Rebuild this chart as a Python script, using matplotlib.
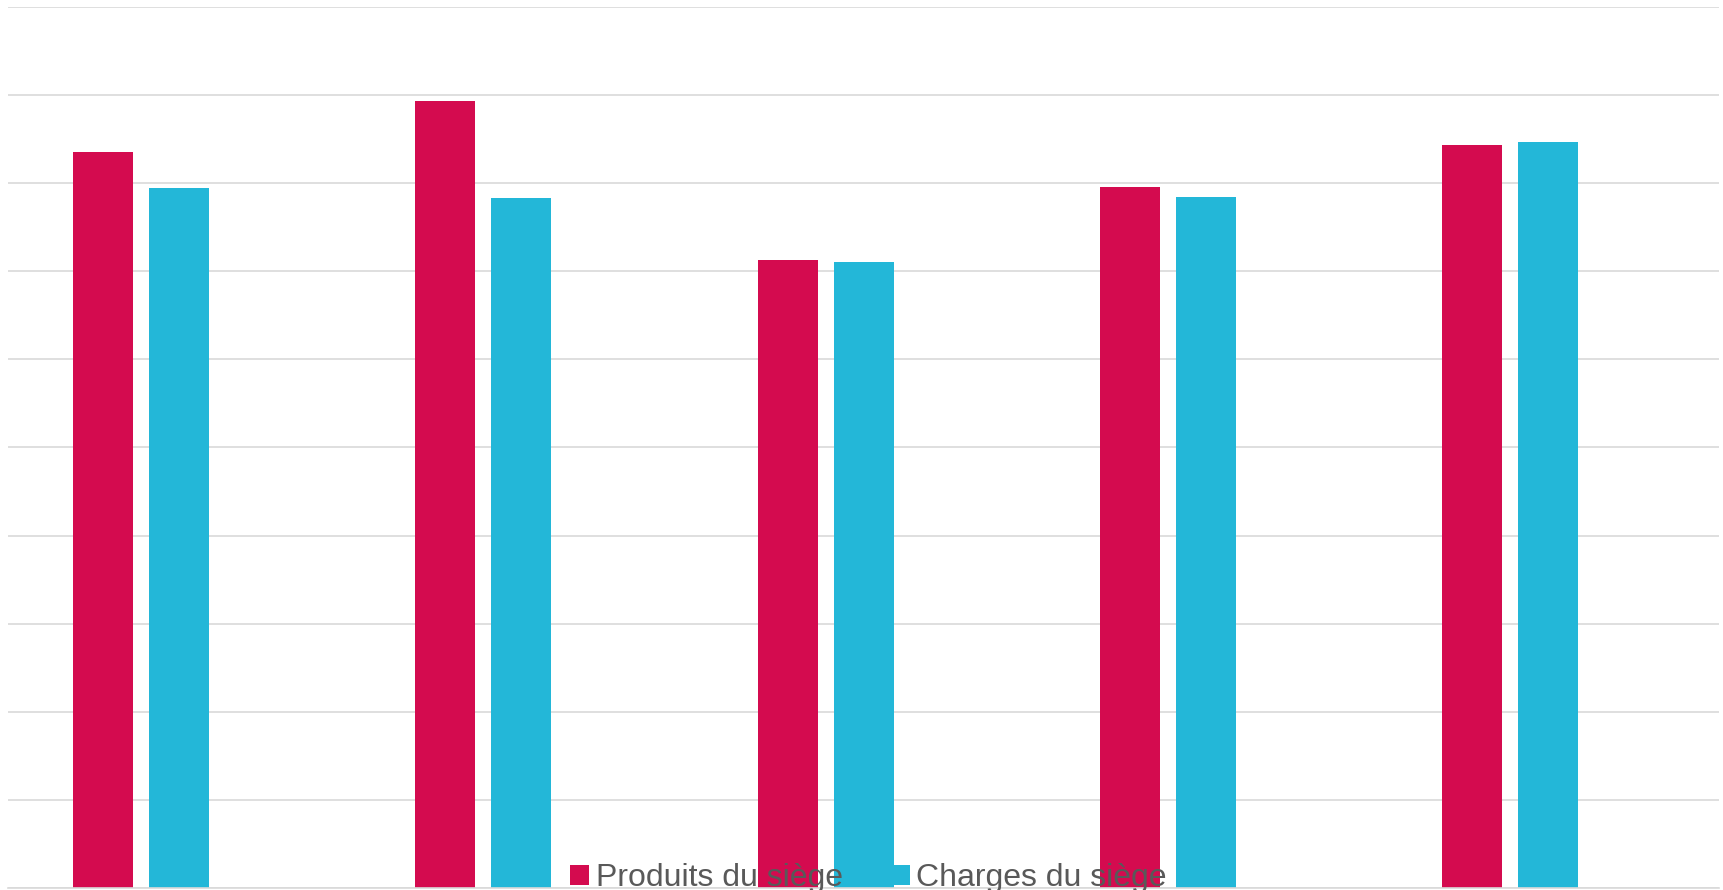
import numpy as np
import matplotlib
matplotlib.use('Agg')
import matplotlib.pyplot as plt

plt.rcParams['font.family'] = ['Liberation Sans', 'DejaVu Sans']

# values read in gridline units (no tick labels shown on the chart)
categories = ['1', '2', '3', '4', '5']
produits = [8.35, 8.93, 7.13, 7.96, 8.43]
charges = [7.95, 7.83, 7.11, 7.84, 8.47]
series_names = ['Produits du siège', 'Charges du siège']

col_produits = '#D40B4F'
col_charges = '#23B7D8'

fig = plt.figure(figsize=(17.23, 8.9), dpi=100)
ax = fig.add_axes([8 / 1723, 2 / 890, 1711 / 1723, 881 / 890])

x = np.arange(len(categories))
w = 60 / 342.2
pitch = 76 / 342.2

ax.bar(x - pitch, produits, width=w, color=col_produits, label=series_names[0], zorder=2)
ax.bar(x, charges, width=w, color=col_charges, label=series_names[1], zorder=2)

ax.set_xlim(-0.5, len(categories) - 0.5)
ax.set_ylim(0, 10)
ax.set_yticks(np.arange(0, 11, 1))
ax.set_xticks([])
ax.tick_params(axis='y', length=0, labelleft=False)
ax.grid(axis='y', color='#d9d9d9', linewidth=1.2, zorder=0)
ax.set_axisbelow(True)
for s in ['top', 'right', 'left']:
    ax.spines[s].set_visible(False)
ax.spines['bottom'].set_color('#d9d9d9')
ax.spines['bottom'].set_linewidth(1.2)

leg = fig.legend(loc='lower center', bbox_to_anchor=(0.504, -0.018), ncol=2,
                 frameon=False, fontsize=23, handlelength=0.6, handleheight=0.6,
                 handletextpad=0.2, columnspacing=1.5, borderaxespad=0)
for t in leg.get_texts():
    t.set_color('#595959')
leg.set_zorder(10)

fig.savefig('out.png', dpi=100)
